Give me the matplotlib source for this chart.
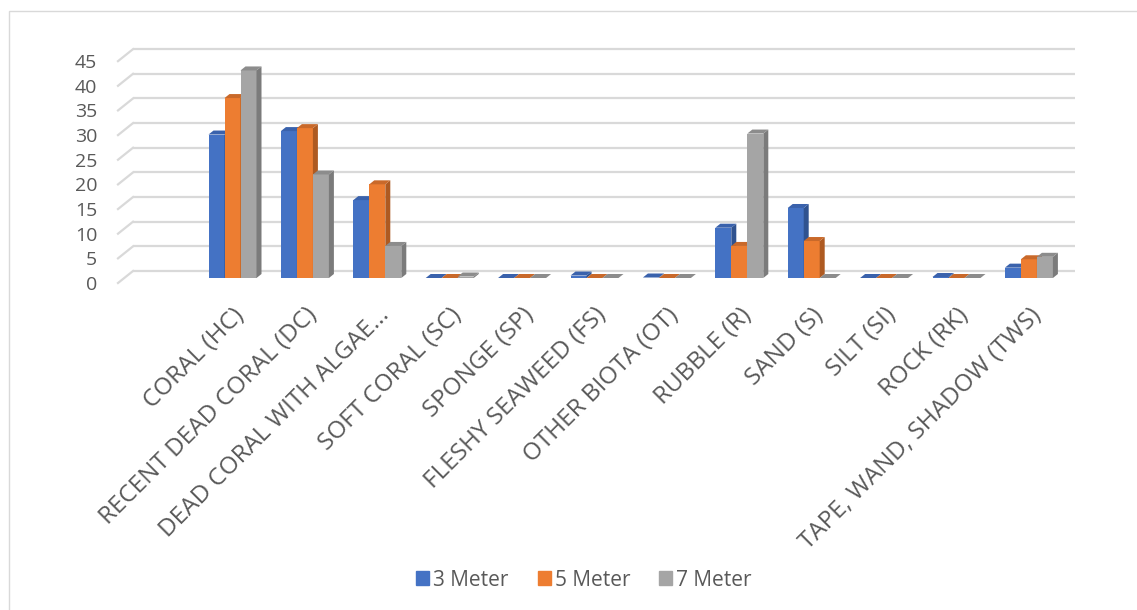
import matplotlib
matplotlib.use("Agg")
import matplotlib.pyplot as plt
from matplotlib.patches import Patch, Rectangle, Polygon
from matplotlib.transforms import ScaledTranslation

# data
categories = ["CORAL (HC)", "RECENT DEAD CORAL (DC)", "DEAD CORAL WITH ALGAE...",
              "SOFT CORAL (SC)", "SPONGE (SP)", "FLESHY SEAWEED (FS)",
              "OTHER BIOTA (OT)", "RUBBLE (R)", "SAND (S)", "SILT (SI)",
              "ROCK (RK)", "TAPE, WAND, SHADOW (TWS)"]
series = ["3 Meter", "5 Meter", "7 Meter"]
m3 = [29.1, 29.8, 15.8, 0, 0, 0.5, 0.1, 10.2, 14.2, 0, 0.2, 2.1]
m5 = [36.5, 30.4, 19.0, 0, 0, 0, 0, 6.5, 7.5, 0, 0, 3.8]
m7 = [42.1, 21.0, 6.5, 0.3, 0, 0, 0, 29.3, 0, 0, 0, 4.3]
yticks = [0, 5, 10, 15, 20, 25, 30, 35, 40, 45]

front = ["#4472C4", "#ED7D31", "#A5A5A5"]
side = ["#2F528F", "#AE5A21", "#7B7B7B"]
top = ["#3A62AC", "#C9692A", "#8C8C8C"]
grey_text = "#595959"

W, H = 1137, 610
fig = plt.figure(figsize=(W / 100, H / 100), dpi=100)
plt.rcParams['font.family'] = ['Open Sans', 'DejaVu Sans']

# pixel geometry of the front plane
x0px, xstep = 232.5, 72.4      # first category center, category spacing
y0px, ystep = 278.0, 4.93      # value 0 baseline, px per unit
L, R, T, B = 100, 1100, 30, 295
ax = fig.add_axes([L / W, 1 - B / H, (R - L) / W, (B - T) / H])
ax.set_xlim((L - x0px) / xstep, (R - x0px) / xstep)
ax.set_ylim((y0px - B) / ystep, (y0px - T) / ystep)
for s in ax.spines.values():
    s.set_visible(False)

def px2x(px):
    return (px - x0px) / xstep

def px2y(dpx):
    return dpx / ystep

# back wall gridlines + left wall stubs
back_dy = px2y(7)
floor_dy = px2y(-5)
for v in yticks:
    ax.plot([px2x(133), px2x(1075)], [v + back_dy, v + back_dy],
            color="#D9D9D9", lw=1.6, zorder=1, solid_capstyle="butt")
    ax.plot([px2x(118), px2x(133)], [v + floor_dy, v + back_dy],
            color="#D9D9D9", lw=1.6, zorder=1)

# bars with fake depth
bw = 16 / xstep
ddx, ddy = 5 / xstep, px2y(4)
pos = range(len(categories))
for k, vals in enumerate([m3, m5, m7]):
    z = 3 + k
    xs = [i + (k - 1) * bw for i in pos]
    ax.bar(xs, vals, width=bw, color=front[k], zorder=z, linewidth=0)
    for x, h in zip(xs, vals):
        xl, xr = x - bw / 2, x + bw / 2
        ax.add_patch(Polygon([(xr, 0), (xr + ddx, ddy), (xr + ddx, h + ddy), (xr, h)],
                             closed=True, color=side[k], lw=0, zorder=z))
        ax.add_patch(Polygon([(xl, h), (xr, h), (xr + ddx, h + ddy), (xl + ddx, h + ddy)],
                             closed=True, color=top[k], lw=0, zorder=z))

# y tick labels sit on the front floor plane
ax.set_yticks(yticks)
ax.set_yticklabels([str(v) for v in yticks], fontsize=14, color=grey_text)
ax.tick_params(axis="y", length=0, pad=2)
for lab in ax.get_yticklabels():
    lab.set_transform(lab.get_transform() + ScaledTranslation(0, -0.05, fig.dpi_scale_trans))

# category labels
ax.set_xticks(list(pos))
ax.set_xticklabels(categories, rotation=45, ha="right", va="top",
                   rotation_mode="anchor", fontsize=17.5, color=grey_text)
ax.tick_params(axis="x", length=0, pad=6)
for lab in ax.get_xticklabels():
    lab.set_transform(lab.get_transform() + ScaledTranslation(0.0, 0, fig.dpi_scale_trans))

# legend
handles = [Patch(color=c, label=s) for c, s in zip(front, series)]
fig.legend(handles=handles, loc="center", bbox_to_anchor=(584 / W, 1 - 580 / H),
           ncol=3, frameon=False, fontsize=15, labelcolor=grey_text,
           handlelength=0.62, handleheight=0.62, handletextpad=0.2,
           columnspacing=1.4)

# chart area border
fig.patches.append(Rectangle((9 / W, -0.1), 1.2, 1 - 11 / H + 0.1,
                             transform=fig.transFigure, fill=False,
                             edgecolor="#D9D9D9", lw=1))

fig.savefig("out.png", dpi=100)
